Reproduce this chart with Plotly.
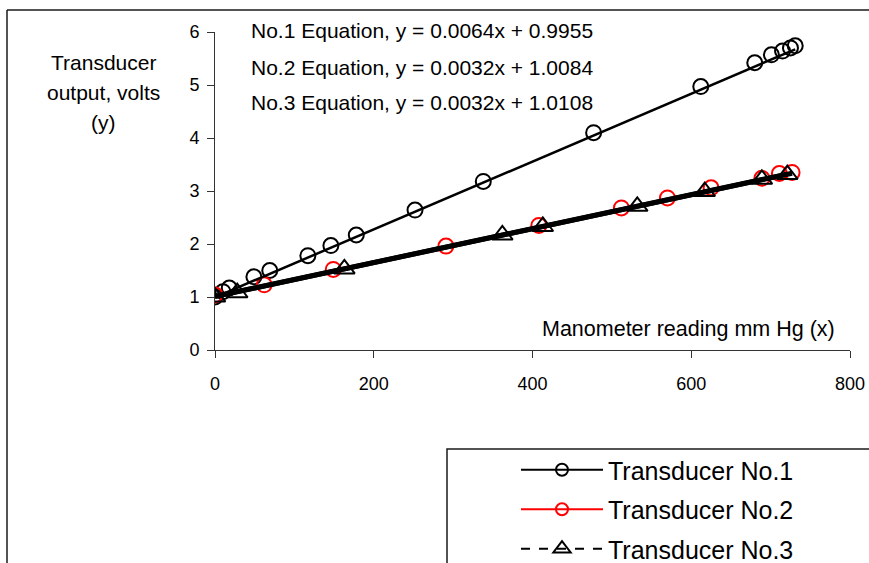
import plotly.graph_objects as go
import numpy as np

# ---------------- data ----------------
series_names = ["Transducer No.1", "Transducer No.2", "Transducer No.3"]

x1 = [0, 10, 18, 49, 69, 117, 146, 178, 252, 338, 477, 612, 680, 701, 715, 725, 731]
y1 = [1.00, 1.10, 1.17, 1.38, 1.50, 1.78, 1.97, 2.17, 2.64, 3.18, 4.10, 4.97, 5.42, 5.57, 5.64, 5.70, 5.74]

x2 = [0, 62, 149, 291, 408, 512, 570, 625, 689, 711, 727]
y2 = [1.04, 1.23, 1.52, 1.96, 2.35, 2.68, 2.87, 3.06, 3.24, 3.33, 3.35]

x3 = [0, 28, 163, 362, 413, 532, 617, 689, 721]
y3 = [1.00, 1.08, 1.53, 2.17, 2.33, 2.71, 2.99, 3.22, 3.31]

slopes = [0.0064, 0.0032, 0.0032]
intercepts = [0.9955, 1.0084, 1.0108]

x_ticks = [0, 200, 400, 600, 800]
y_ticks = [0, 1, 2, 3, 4, 5, 6]

FONT = "Liberation Sans, Arial, sans-serif"

# figure geometry (pixels)
W, H = 869, 563
L, R, T, B = 215, 19, 32, 213
PW, PH = W - L - R, H - T - B


def px_x(p):
    return (p - L) / PW


def px_y(p):
    return (H - B - p) / PH


fig = go.Figure()

xs = [x1, x2, x3]
ys = [y1, y2, y3]
colors = ["black", "red", "black"]
symbols = ["circle-open", "circle-open", "triangle-up-open"]
sizes = [15, 15, 18]
legend_sizes = [12, 12, 15]
dashes = ["solid", "solid", "dash"]
trend_w = [2.5, 5, 5]

# data markers
for i in range(3):
    fig.add_trace(go.Scatter(
        x=xs[i], y=ys[i], mode="markers", showlegend=False, hoverinfo="skip",
        marker=dict(symbol=symbols[i], size=sizes[i], color=colors[i],
                    line=dict(width=2, color=colors[i])),
    ))

# linear trendlines drawn on top
for i in range(3):
    xt = np.array([min(xs[i]), max(xs[i])], dtype=float)
    yt = slopes[i] * xt + intercepts[i]
    fig.add_trace(go.Scatter(
        x=xt, y=yt, mode="lines", showlegend=False, hoverinfo="skip",
        line=dict(color="black", width=trend_w[i]),
    ))

# legend entries
for i in range(3):
    fig.add_trace(go.Scatter(
        x=[None], y=[None], mode="lines+markers", name=series_names[i],
        legendgroup="g%d" % i,
        line=dict(color=colors[i], width=2, dash=dashes[i]),
        marker=dict(symbol=symbols[i], size=legend_sizes[i], color=colors[i],
                    line=dict(width=2, color=colors[i])),
    ))

annotations = []
eq_y = [31, 67, 103]
for i in range(3):
    annotations.append(dict(
        text="No.%d Equation, y = %.4fx + %.4f" % (i + 1, slopes[i], intercepts[i]),
        x=px_x(422), y=px_y(eq_y[i]), xref="paper", yref="paper",
        xanchor="center", yanchor="middle", showarrow=False,
        font=dict(family=FONT, size=21, color="black"),
    ))

ytitle_lines = ["Transducer", "output, volts", "(y)"]
ytitle_y = [63, 93, 122]
for t, yy in zip(ytitle_lines, ytitle_y):
    annotations.append(dict(
        text=t, x=px_x(104), y=px_y(yy), xref="paper", yref="paper",
        xanchor="center", yanchor="middle", showarrow=False,
        font=dict(family=FONT, size=21, color="black"),
    ))

annotations.append(dict(
    text="Manometer reading mm Hg (x)", x=px_x(688), y=px_y(329),
    xref="paper", yref="paper", xanchor="center", yanchor="middle",
    showarrow=False, font=dict(family=FONT, size=21.5, color="black"),
))

shapes = [
    # outer chart frame (top and left edges visible)
    dict(type="line", xref="paper", yref="paper", x0=px_x(7), x1=px_x(900),
         y0=px_y(10), y1=px_y(10), line=dict(color="#1a1a1a", width=1.5)),
    dict(type="line", xref="paper", yref="paper", x0=px_x(7), x1=px_x(7),
         y0=px_y(10), y1=px_y(600), line=dict(color="#1a1a1a", width=1.5)),
    # legend box
    dict(type="rect", xref="paper", yref="paper", x0=px_x(447), x1=px_x(900),
         y0=px_y(449), y1=px_y(600), line=dict(color="#1a1a1a", width=1.5),
         fillcolor="rgba(0,0,0,0)"),
]

fig.update_layout(
    width=W, height=H,
    margin=dict(l=L, r=R, t=T, b=B, pad=0, autoexpand=False),
    paper_bgcolor="white", plot_bgcolor="white",
    font=dict(family=FONT, size=18, color="black"),
    showlegend=True,
    legend=dict(
        x=px_x(516), y=px_y(447), xanchor="left", yanchor="top",
        xref="paper", yref="paper",
        bgcolor="rgba(0,0,0,0)", borderwidth=0,
        font=dict(family=FONT, size=25, color="black"),
        tracegroupgap=4, traceorder="grouped", itemwidth=82,
    ),
    annotations=annotations,
    shapes=shapes,
)

fig.update_xaxes(
    range=[0, 800], tickvals=x_ticks, ticktext=[str(v) for v in x_ticks],
    showgrid=False, zeroline=False, showline=True, linecolor="#333333", linewidth=1,
    ticks="outside", ticklen=7, tickcolor="#333333", tickwidth=1,
    tickfont=dict(family=FONT, size=18, color="black"),
    ticklabelstandoff=10, automargin=False,
)
fig.update_yaxes(
    range=[0, 6], tickvals=y_ticks, ticktext=[str(v) for v in y_ticks],
    showgrid=False, zeroline=False, showline=True, linecolor="#333333", linewidth=1,
    ticks="outside", ticklen=7, tickcolor="#333333", tickwidth=1,
    tickfont=dict(family=FONT, size=18, color="black"),
    ticklabelstandoff=4, automargin=False,
)

fig.write_html("out.html")
